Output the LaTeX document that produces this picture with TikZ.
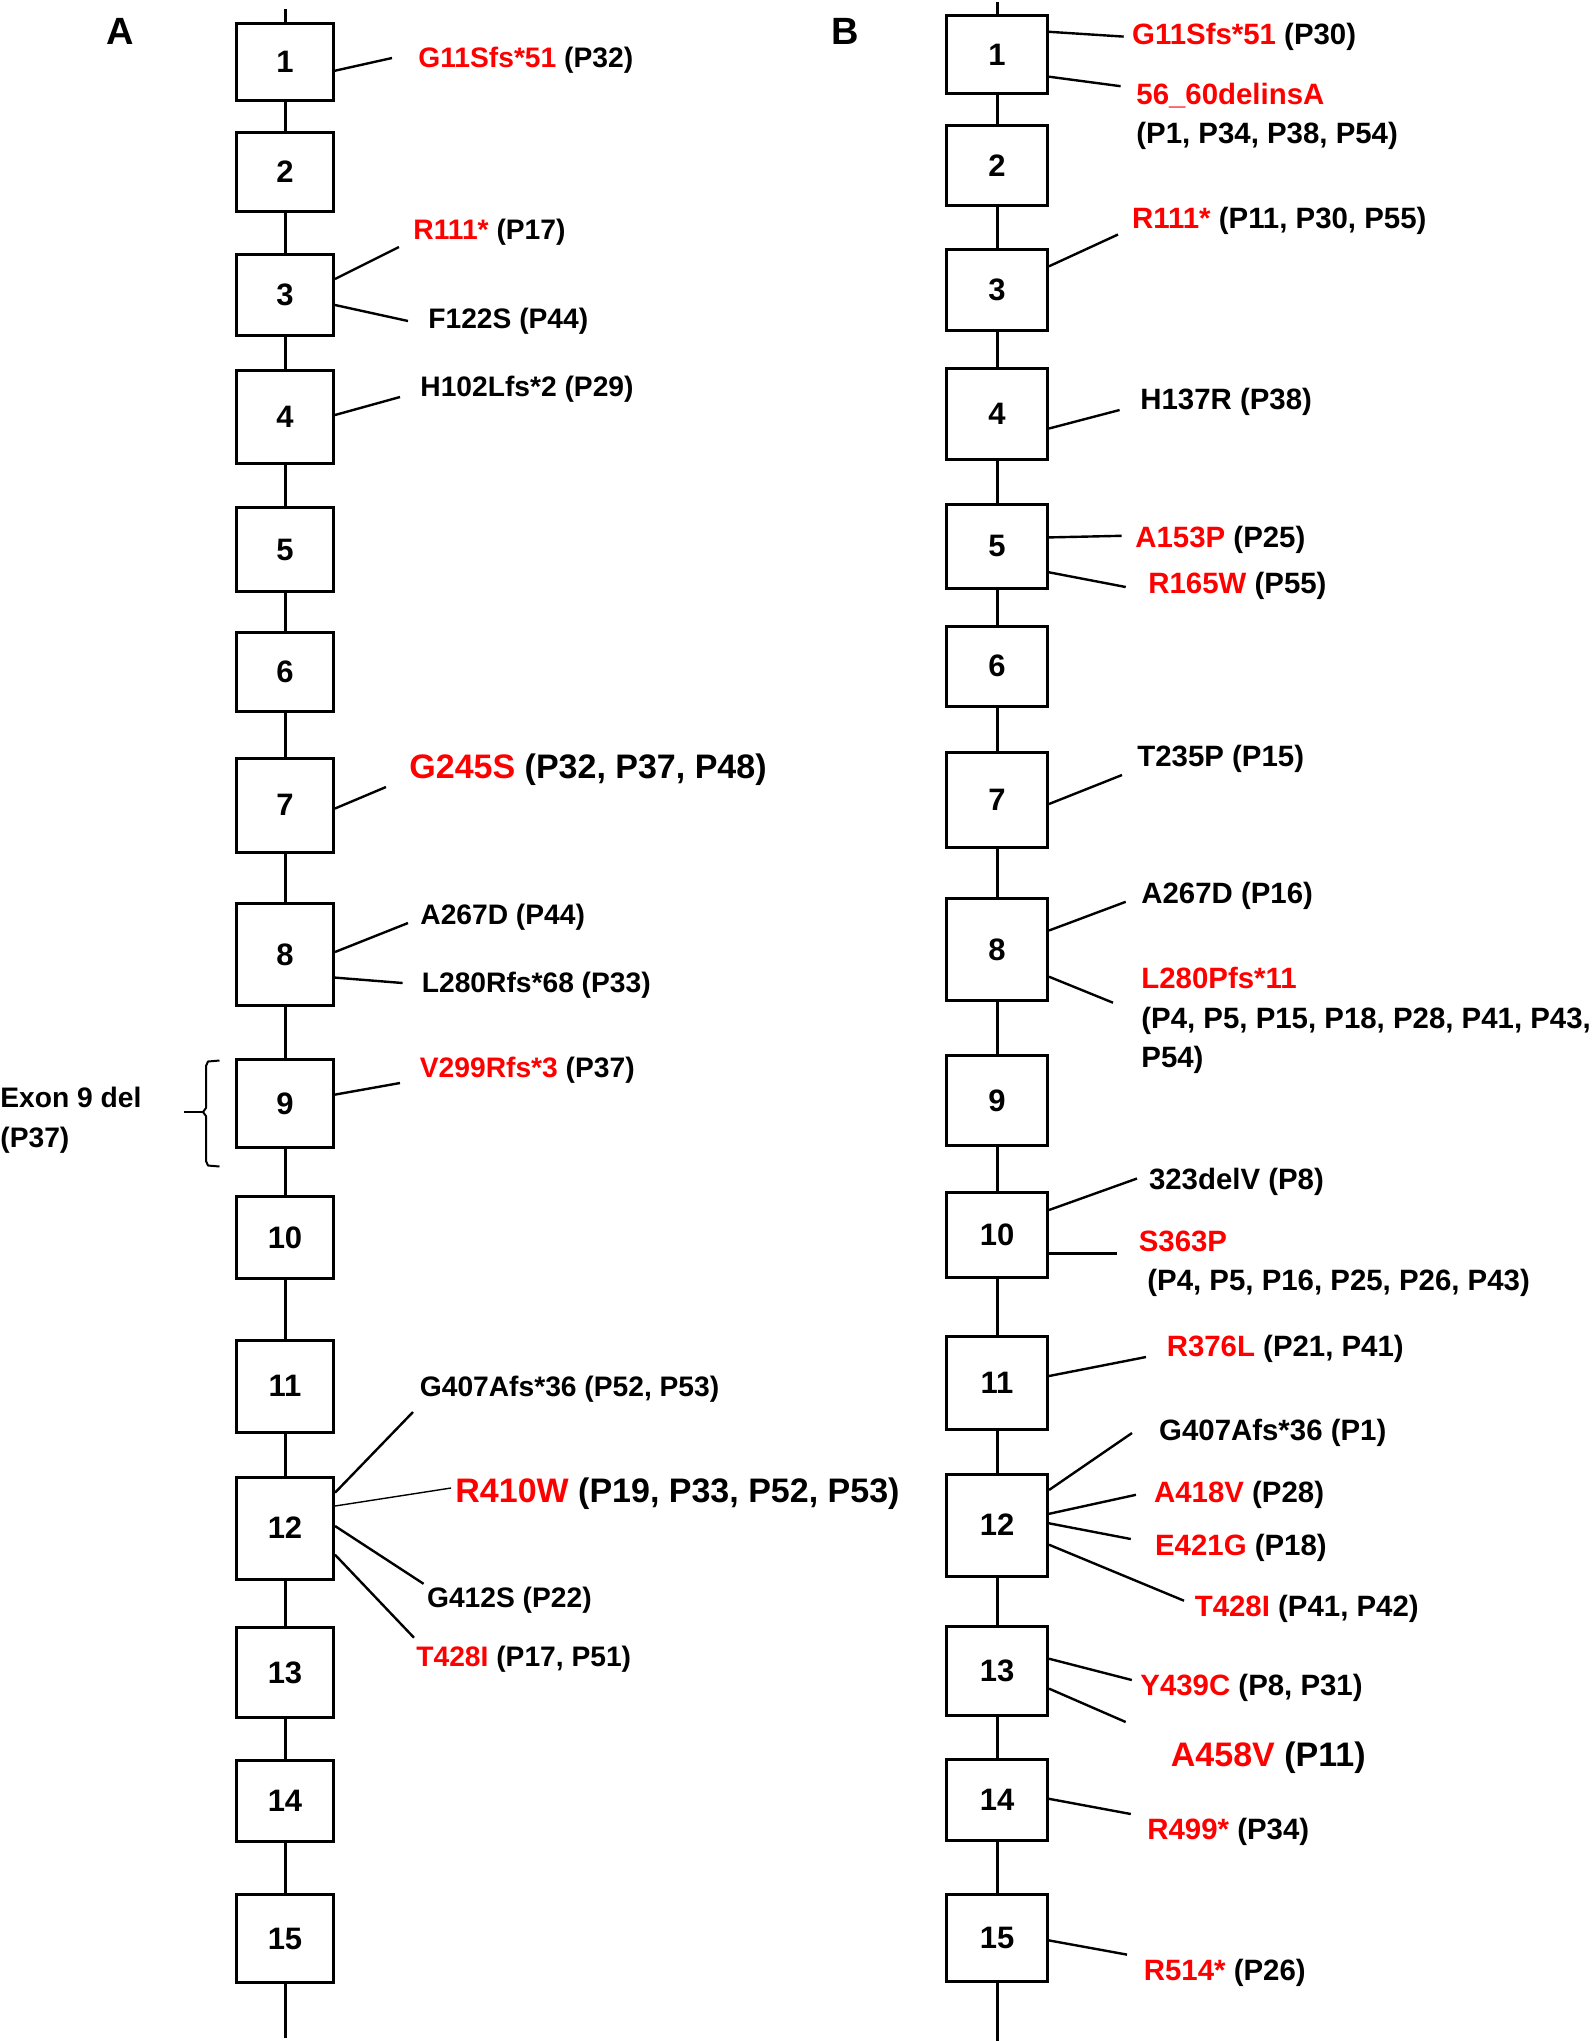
\documentclass[tikz,border=0pt]{standalone}
\usepackage{fontspec}
\setmainfont{Liberation Sans}
\usetikzlibrary{calc}
\definecolor{mutred}{RGB}{255,0,0}
\newcommand{\mred}[1]{\textcolor{mutred}{#1}}
\begin{document}
\begin{tikzpicture}[x=0.5pt,y=-0.5pt,
  exonA/.style={draw, line width=1.5pt, minimum width=48.5pt, inner sep=0pt, fill=white, font=\fontsize{15.5}{18}\selectfont\bfseries},
  exonB/.style={exonA, minimum width=50.5pt},
  backbone/.style={line width=1.5pt},
  lead/.style={line width=1.2pt},
  thinlead/.style={line width=0.7pt},
  lab/.style={anchor=base west, inner sep=0pt, font=\fontsize{14.7}{17}\selectfont\bfseries},
  labA/.style={anchor=base west, inner sep=0pt, font=\fontsize{14.1}{17}\selectfont\bfseries},
  biglab/.style={anchor=base west, inner sep=0pt, font=\fontsize{17}{20}\selectfont\bfseries},
  panel/.style={anchor=base, inner sep=0pt, font=\fontsize{19}{22}\selectfont\bfseries},
]
\useasboundingbox (0,0) rectangle (1594,2041);

% panel letters
\node[panel] (pA) at (120,44) {A};
\node[panel] (pB) at (845,44) {B};

% ---------- Panel A exons ----------
\foreach \i/\c/\h in {1/62/38.5, 2/172/39.5, 3/295/40.5, 4/417/46.5, 5/549.5/42,
  6/672/39.5, 7/805/47, 8/954.5/51, 9/1103.5/44, 10/1237.5/41, 11/1386/46,
  12/1528/51, 13/1672.5/45, 14/1801/40.5, 15/1938.5/44}
  \node[exonA, minimum height=\h pt] (a\i) at (285,\c) {\i};
\coordinate (atop) at (285,9);
\coordinate (abot) at (285,2038);
\draw[backbone] (atop) -- (a1.north);
\foreach \i [evaluate=\i as \j using int(\i+1)] in {1,...,14}
  \draw[backbone] (a\i.south) -- (a\j.north);
\draw[backbone] (a15.south) -- (abot);

% ---------- Panel B exons ----------
\foreach \i/\c/\h in {1/54.7/39, 2/165.4/40, 3/290/40.5, 4/413.8/45.5, 5/546/42,
  6/666/40, 7/800/47.5, 8/949.5/51, 9/1100.5/45, 10/1235/42.5, 11/1382.7/46.5,
  12/1525/51, 13/1670.7/44.5, 14/1799.5/40.5, 15/1938/43.5}
  \node[exonB, minimum height=\h pt] (b\i) at (997,\c) {\i};
\coordinate (btop) at (997,2);
\coordinate (bbot) at (997,2041);
\draw[backbone] (btop) -- (b1.north);
\foreach \i [evaluate=\i as \j using int(\i+1)] in {1,...,14}
  \draw[backbone] (b\i.south) -- (b\j.north);
\draw[backbone] (b15.south) -- (bbot);

% ---------- Panel A labels ----------
\node[labA] (ta1) at (418,67.9) {\mred{G11Sfs*51} (P32)};
\coordinate (ea1) at (392,58);
\draw[lead] (a1.east |- 0,70.7) -- (ea1);

\node[labA] (ta3a) at (413,239.4) {\mred{R111*} (P17)};
\coordinate (ea3a) at (399,247);
\draw[lead] (a3.east |- 0,279) -- (ea3a);

\node[labA] (ta3b) at (428,328.4) {F122S (P44)};
\coordinate (ea3b) at (408,321);
\draw[lead] (a3.east |- 0,305) -- (ea3b);

\node[labA] (ta4) at (420,396) {H102Lfs*2 (P29)};
\coordinate (ea4) at (400,397);
\draw[lead] (a4.east |- 0,415) -- (ea4);

\node[biglab] (ta7) at (409,778) {\mred{G245S} (P32, P37, P48)};
\coordinate (ea7) at (386,787);
\draw[lead] (a7.east |- 0,808.5) -- (ea7);

\node[labA] (ta8a) at (420,924.4) {A267D (P44)};
\coordinate (ea8a) at (408,923);
\draw[lead] (a8.east |- 0,952) -- (ea8a);

\node[labA] (ta8b) at (421.5,992.4) {L280Rfs*68 (P33)};
\coordinate (ea8b) at (402.6,983);
\draw[lead] (a8.east |- 0,977.6) -- (ea8b);

\node[labA] (ta9) at (419.5,1077.4) {\mred{V299Rfs*3} (P37)};
\coordinate (ea9) at (400,1083);
\draw[lead] (a9.east |- 0,1094.6) -- (ea9);

\node[labA] (texdel) at (0,1107.4) {Exon 9 del};
\node[labA] (texdelp) at (0,1147.4) {(P37)};
\draw[line width=1pt, line join=round] (219.5,1060.5) -- (208,1061.5) -- (206,1066) -- (206,1108)
  -- (203,1112) -- (206,1116) -- (206,1161) -- (208,1165.5) -- (219.5,1166.5);
\draw[line width=1pt] (203,1112) -- (184,1112);

\node[labA] (ta12a) at (419.5,1396.4) {G407Afs*36 (P52, P53)};
\coordinate (ea12a) at (413,1412);
\draw[lead] (a12.east |- 0,1492.7) -- (ea12a);

\node[biglab] (ta12b) at (455,1502) {\mred{R410W} (P19, P33, P52, P53)};
\coordinate (ea12b) at (451,1488);
\draw[thinlead] (a12.east |- 0,1506) -- (ea12b);

\node[labA] (ta12c) at (426.7,1607.4) {G412S (P22)};
\coordinate (ea12c) at (423.6,1583.8);
\draw[lead] (a12.east |- 0,1526) -- (ea12c);

\node[labA] (ta12d) at (416,1666.4) {\mred{T428I} (P17, P51)};
\coordinate (ea12d) at (414,1637.7);
\draw[lead] (a12.east |- 0,1554.7) -- (ea12d);

% ---------- Panel B labels ----------
\node[lab] (tb1a) at (1131.8,44.4) {\mred{G11Sfs*51} (P30)};
\coordinate (eb1a) at (1123.7,36.6);
\draw[lead] (b1.east |- 0,31.8) -- (eb1a);

\node[lab] (tb1b) at (1136,104.4) {\mred{56\_60delinsA}};
\node[lab] (tb1c) at (1136,143.4) {(P1, P34, P38, P54)};
\coordinate (eb1b) at (1120.6,86.2);
\draw[lead] (b1.east |- 0,76.7) -- (eb1b);

\node[lab] (tb3) at (1131.8,228.4) {\mred{R111*} (P11, P30, P55)};
\coordinate (eb3) at (1118,234.5);
\draw[lead] (b3.east |- 0,266.3) -- (eb3);

\node[lab] (tb4) at (1140,409) {H137R (P38)};
\coordinate (eb4) at (1119.6,410);
\draw[lead] (b4.east |- 0,428.5) -- (eb4);

\node[lab] (tb5a) at (1135,547.4) {\mred{A153P} (P25)};
\coordinate (eb5a) at (1121.6,535.8);
\draw[lead] (b5.east |- 0,537.4) -- (eb5a);

\node[lab] (tb5b) at (1148,593.4) {\mred{R165W} (P55)};
\coordinate (eb5b) at (1125.7,587);
\draw[lead] (b5.east |- 0,572.3) -- (eb5b);

\node[lab] (tb7) at (1137,766) {T235P (P15)};
\coordinate (eb7) at (1122,775);
\draw[lead] (b7.east |- 0,804) -- (eb7);

\node[lab] (tb8a) at (1141,903.4) {A267D (P16)};
\coordinate (eb8a) at (1125.7,901.8);
\draw[lead] (b8.east |- 0,930.5) -- (eb8a);

\node[lab] (tb8b) at (1141,988.4) {\mred{L280Pfs*11}};
\node[lab] (tb8c) at (1141,1028.4) {(P4, P5, P15, P18, P28, P41, P43,};
\node[lab] (tb8d) at (1141,1067.4) {P54)};
\coordinate (eb8b) at (1113,1002.7);
\draw[lead] (b8.east |- 0,976.7) -- (eb8b);

\node[lab] (tb10a) at (1148.6,1189.4) {323delV (P8)};
\coordinate (eb10a) at (1137,1178.5);
\draw[lead] (b10.east |- 0,1210) -- (eb10a);

\node[lab] (tb10b) at (1138.4,1251.4) {\mred{S363P}};
\node[lab] (tb10c) at (1147,1290.4) {(P4, P5, P16, P25, P26, P43)};
\coordinate (eb10b) at (1116.5,1253.4);
\draw[lead] (b10.east |- 0,1253.4) -- (eb10b);

\node[lab] (tb11) at (1166.4,1356) {\mred{R376L} (P21, P41)};
\coordinate (eb11) at (1146,1357);
\draw[lead] (b11.east |- 0,1376) -- (eb11);

\node[lab] (tb12a) at (1158.8,1440.4) {G407Afs*36 (P1)};
\coordinate (eb12a) at (1132,1433);
\draw[lead] (b12.east |- 0,1490) -- (eb12a);

\node[lab] (tb12b) at (1153.7,1502) {\mred{A418V} (P28)};
\coordinate (eb12b) at (1135.9,1494.8);
\draw[lead] (b12.east |- 0,1513.8) -- (eb12b);

\node[lab] (tb12c) at (1154.7,1555.4) {\mred{E421G} (P18)};
\coordinate (eb12c) at (1130.8,1539);
\draw[lead] (b12.east |- 0,1523.3) -- (eb12c);

\node[lab] (tb12d) at (1194.4,1616.4) {\mred{T428I} (P41, P42)};
\coordinate (eb12d) at (1184,1600.7);
\draw[lead] (b12.east |- 0,1544.7) -- (eb12d);

\node[lab] (tb13a) at (1140,1695.4) {\mred{Y439C} (P8, P31)};
\coordinate (eb13a) at (1131.8,1680);
\draw[lead] (b13.east |- 0,1658.7) -- (eb13a);

\node[biglab] (tb13b) at (1170.5,1766) {\mred{A458V} (P11)};
\coordinate (eb13b) at (1125.7,1722);
\draw[lead] (b13.east |- 0,1688.6) -- (eb13b);

\node[lab] (tb14) at (1147,1839.4) {\mred{R499*} (P34)};
\coordinate (eb14) at (1130.8,1814);
\draw[lead] (b14.east |- 0,1798.8) -- (eb14);

\node[lab] (tb15) at (1143.5,1980.4) {\mred{R514*} (P26)};
\coordinate (eb15) at (1127,1954.6);
\draw[lead] (b15.east |- 0,1940.4) -- (eb15);
\end{tikzpicture}
\end{document}
